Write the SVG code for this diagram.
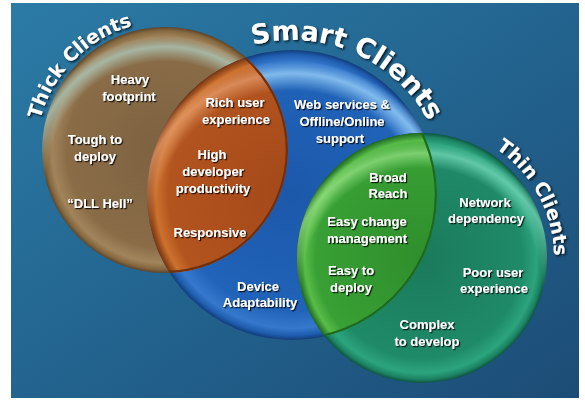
<svg xmlns="http://www.w3.org/2000/svg" width="585" height="400" viewBox="0 0 585 400">
<defs>
<style>
.lbl{font-family:"Liberation Sans",Arial,sans-serif;font-weight:bold;font-size:13px;fill:#ffffff;text-anchor:middle;filter:url(#sh)}
.ttl{font-family:"DejaVu Sans",Verdana,sans-serif;font-weight:bold;fill:#ffffff;filter:url(#sh2)}
</style>
<filter id="sh" x="-10%" y="-10%" width="125%" height="130%">
<feDropShadow dx="1.2" dy="1.2" stdDeviation="0.7" flood-color="#000" flood-opacity="0.85"/>
</filter>
<filter id="sh2" x="-20%" y="-30%" width="140%" height="160%">
<feDropShadow dx="1.5" dy="1.5" stdDeviation="1" flood-color="#000" flood-opacity="0.8"/>
</filter>
<linearGradient id="bg" x1="0" y1="0" x2="1" y2="1">
<stop offset="0" stop-color="#2b7ba6"/>
<stop offset="0.5" stop-color="#22648f"/>
<stop offset="1" stop-color="#1c4c76"/>
</linearGradient>
<radialGradient id="gA" cx="0.5" cy="0.5" r="0.5">
<stop offset="0" stop-color="#7d6240"/>
<stop offset="0.8" stop-color="#8a6c47"/>
<stop offset="0.92" stop-color="#a2845c"/>
<stop offset="0.97" stop-color="#86683f"/>
<stop offset="1" stop-color="#5a452c"/>
</radialGradient>
<radialGradient id="gB" cx="0.5" cy="0.5" r="0.5">
<stop offset="0" stop-color="#1c58aa"/>
<stop offset="0.8" stop-color="#2063b8"/>
<stop offset="0.92" stop-color="#3578cc"/>
<stop offset="0.97" stop-color="#1e5cae"/>
<stop offset="1" stop-color="#123c78"/>
</radialGradient>
<radialGradient id="gC" cx="0.5" cy="0.5" r="0.5">
<stop offset="0" stop-color="#1a7a5c"/>
<stop offset="0.8" stop-color="#1f8a68"/>
<stop offset="0.92" stop-color="#2ca47e"/>
<stop offset="0.97" stop-color="#1c8262"/>
<stop offset="1" stop-color="#0d5440"/>
</radialGradient>
<radialGradient id="gO" cx="0.5" cy="0.5" r="0.5">
<stop offset="0" stop-color="#a4481a"/>
<stop offset="0.85" stop-color="#b2541e"/>
<stop offset="0.94" stop-color="#cc722e"/>
<stop offset="1" stop-color="#7a3410"/>
</radialGradient>
<radialGradient id="gG" cx="0.5" cy="0.5" r="0.5">
<stop offset="0" stop-color="#2f8e2c"/>
<stop offset="0.85" stop-color="#38a034"/>
<stop offset="0.94" stop-color="#58bc48"/>
<stop offset="1" stop-color="#1e6a20"/>
</radialGradient>
<radialGradient id="hA" cx="0.5" cy="0.62" r="0.6">
<stop offset="0.8" stop-color="#a9c0b0" stop-opacity="0"/>
<stop offset="0.9" stop-color="#a9c0b0" stop-opacity="0.85"/>
<stop offset="0.97" stop-color="#a9c0b0" stop-opacity="0"/>
</radialGradient>
<radialGradient id="hB" cx="0.5" cy="0.62" r="0.6">
<stop offset="0.8" stop-color="#90c8f4" stop-opacity="0"/>
<stop offset="0.9" stop-color="#90c8f4" stop-opacity="0.85"/>
<stop offset="0.97" stop-color="#90c8f4" stop-opacity="0"/>
</radialGradient>
<radialGradient id="hC" cx="0.5" cy="0.62" r="0.6">
<stop offset="0.8" stop-color="#70d4b4" stop-opacity="0"/>
<stop offset="0.9" stop-color="#70d4b4" stop-opacity="0.8"/>
<stop offset="0.97" stop-color="#70d4b4" stop-opacity="0"/>
</radialGradient>
<radialGradient id="hO" cx="0.5" cy="0.62" r="0.6">
<stop offset="0.8" stop-color="#e8a070" stop-opacity="0"/>
<stop offset="0.9" stop-color="#e8a070" stop-opacity="0.7"/>
<stop offset="0.97" stop-color="#e8a070" stop-opacity="0"/>
</radialGradient>
<radialGradient id="hG" cx="0.5" cy="0.62" r="0.6">
<stop offset="0.8" stop-color="#9ae488" stop-opacity="0"/>
<stop offset="0.9" stop-color="#9ae488" stop-opacity="0.7"/>
<stop offset="0.97" stop-color="#9ae488" stop-opacity="0"/>
</radialGradient>
<clipPath id="clipA"><circle cx="165" cy="150" r="123"/></clipPath>
<clipPath id="clipB"><circle cx="292" cy="195" r="145"/></clipPath>
<clipPath id="clipC"><circle cx="422" cy="258" r="125"/></clipPath>
<path id="arcA" d="M 73.2 243.4 A 131 131 0 0 1 256.8 56.6"/>
<path id="arcB" d="M 149.85 133.2 A 155 155 0 0 1 434.15 256.8"/>
<path id="arcC" d="M 359 142 A 132 132 0 0 1 485 374"/>
</defs>
<rect x="0" y="0" width="585" height="400" fill="#ffffff"/>
<rect x="11" y="3" width="568" height="395" fill="url(#bg)"/>

<g id="thick">
<circle cx="165" cy="150" r="123" fill="url(#gA)"/>
<circle cx="165" cy="150" r="123" fill="url(#hA)"/>
</g>
<g id="smart">
<circle cx="292" cy="195" r="145" fill="url(#gB)"/>
<circle cx="292" cy="195" r="145" fill="url(#hB)"/>
</g>
<g id="thin">
<circle cx="422" cy="258" r="125" fill="url(#gC)"/>
<circle cx="422" cy="258" r="125" fill="url(#hC)"/>
</g>
<g id="thick-smart" clip-path="url(#clipA)">
<circle cx="292" cy="195" r="145" fill="url(#gO)"/>
<circle cx="292" cy="195" r="145" fill="url(#hO)"/>
<g clip-path="url(#clipB)">
<circle cx="165" cy="150" r="122" fill="none" stroke="#6e3010" stroke-width="2.5"/>
</g>
</g>
<g id="smart-thin" clip-path="url(#clipB)">
<circle cx="422" cy="258" r="125" fill="url(#gG)"/>
<circle cx="422" cy="258" r="125" fill="url(#hG)"/>
<g clip-path="url(#clipC)">
<circle cx="292" cy="195" r="144" fill="none" stroke="#1c6a22" stroke-width="2.5"/>
</g>
</g>

<g id="titles">
<text class="ttl" font-size="19"><textPath href="#arcA" startOffset="50%" text-anchor="middle">Thick Clients</textPath></text>
<text class="ttl" font-size="27"><textPath href="#arcB" startOffset="50%" text-anchor="middle">Smart Clients</textPath></text>
<text class="ttl" font-size="19"><textPath href="#arcC" startOffset="50%" text-anchor="middle">Thin Clients</textPath></text>
</g>

<g id="labels-thick">
<text class="lbl" x="130" y="84"><tspan x="130">Heavy</tspan><tspan x="129" dy="17">footprint</tspan></text>
<text class="lbl" x="95" y="144"><tspan x="95">Tough to</tspan><tspan x="95" dy="17">deploy</tspan></text>
<text class="lbl" x="100" y="208">“DLL Hell”</text>
</g>
<g id="labels-thick-smart">
<text class="lbl" x="235" y="107"><tspan x="235">Rich user</tspan><tspan x="236" dy="17">experience</tspan></text>
<text class="lbl" x="212" y="159"><tspan x="212">High</tspan><tspan x="213" dy="17">developer</tspan><tspan x="213" dy="17">productivity</tspan></text>
<text class="lbl" x="210" y="237">Responsive</text>
</g>
<g id="labels-smart">
<text class="lbl" x="342" y="109"><tspan x="342">Web services &amp;</tspan><tspan x="342" dy="17">Offline/Online</tspan><tspan x="340" dy="17">support</tspan></text>
<text class="lbl" x="258" y="291"><tspan x="258">Device</tspan><tspan x="260" dy="16">Adaptability</tspan></text>
</g>
<g id="labels-smart-thin">
<text class="lbl" x="388" y="182"><tspan x="388">Broad</tspan><tspan x="388" dy="16">Reach</tspan></text>
<text class="lbl" x="367" y="226"><tspan x="367">Easy change</tspan><tspan x="367" dy="17">management</tspan></text>
<text class="lbl" x="351" y="275"><tspan x="351">Easy to</tspan><tspan x="351" dy="17">deploy</tspan></text>
</g>
<g id="labels-thin">
<text class="lbl" x="485" y="207"><tspan x="485">Network</tspan><tspan x="486" dy="16">dependency</tspan></text>
<text class="lbl" x="493" y="277"><tspan x="493">Poor user</tspan><tspan x="494" dy="16">experience</tspan></text>
<text class="lbl" x="427" y="329"><tspan x="427">Complex</tspan><tspan x="427" dy="17">to develop</tspan></text>
</g>
</svg>
